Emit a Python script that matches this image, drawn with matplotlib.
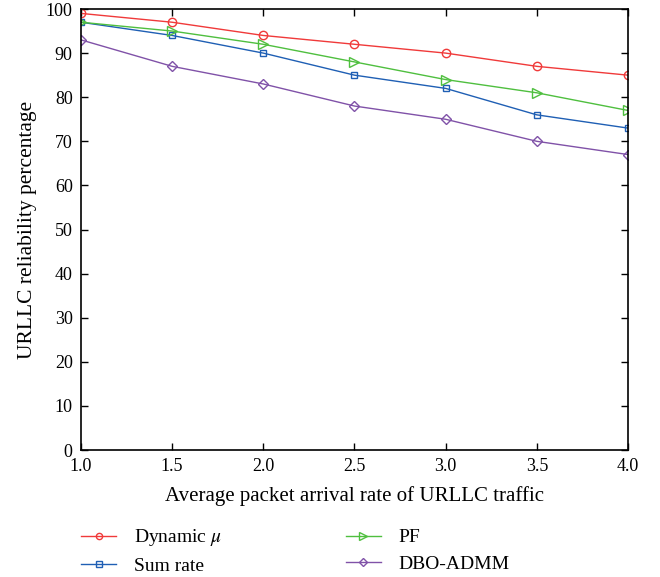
import numpy as np
from matplotlib import pyplot as plt

plt.rcParams['font.family'] = ['Liberation Serif', 'DejaVu Serif']
plt.rcParams['mathtext.fontset'] = 'stix'

rate = [1.0, 1.5, 2.0, 2.5, 3.0, 3.5, 4.0]
dynamic_mu = [99, 97, 94, 92, 90, 87, 85]
sum_rate = [97, 94, 90, 85, 82, 76, 73]
pf = [97, 95, 92, 88, 84, 81, 77]
dbo_admm = [93, 87, 83, 78, 75, 70, 67]

fig = plt.figure(figsize=(6.6, 5.77), dpi=100)
ax = fig.add_axes([0.1227, 0.22, 0.8288, 0.7644])

l1, = ax.plot(rate, dynamic_mu, color='#f03a3a', marker='o', mfc='none', ms=6, lw=1)
l2, = ax.plot(rate, sum_rate, color='#1f5fb4', marker='s', mfc='none', ms=5, lw=1)
l3, = ax.plot(rate, pf, color='#4fbf3f', marker='>', mfc='none', ms=7, lw=1)
l4, = ax.plot(rate, dbo_admm, color='#8052a8', marker='D', mfc='none', ms=5, lw=1)

ax.set_xlim(1.0, 4.0)
ax.set_ylim(0, 100)
ax.set_xticks(rate)
ax.set_xticklabels(['%.1f' % r for r in rate])
ax.set_yticks(range(0, 101, 10))
ax.tick_params(direction='in', top=True, right=True, labelsize=13, length=5, width=1, pad=6)
for s in ax.spines.values():
    s.set_linewidth(1.2)
ax.set_xlabel('Average packet arrival rate of URLLC traffic', fontsize=15, labelpad=8)
ax.set_ylabel('URLLC reliability percentage', fontsize=15.5, labelpad=6)

fig.legend([l1, l2, l3, l4], [r'Dynamic $\mu$', 'Sum rate', 'PF', 'DBO-ADMM'],
           ncol=2, loc='upper left', bbox_to_anchor=(0.123, 0.086), frameon=False,
           fontsize=14, handlelength=1.8, handletextpad=0.9, columnspacing=6.4,
           labelspacing=0.45, borderaxespad=0, borderpad=0, markerscale=0.75)

fig.savefig('out.png', dpi=100)
